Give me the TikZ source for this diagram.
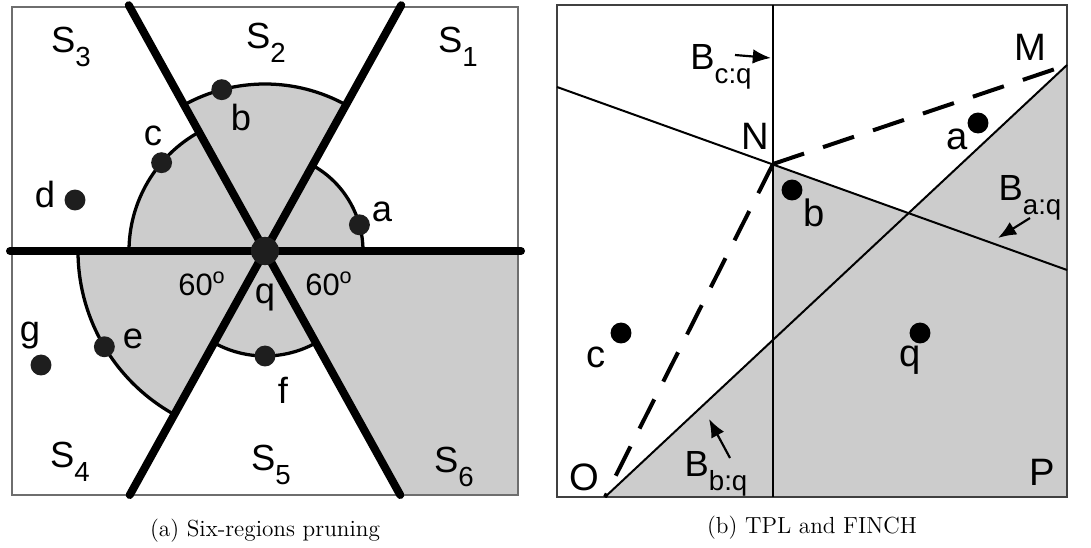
\documentclass[tikz,border=0pt]{standalone}
\usepackage{fontspec}
\setsansfont{Liberation Sans}
\usepackage{tikz}
\usetikzlibrary{arrows.meta, calc}
\definecolor{shadegray}{RGB}{204,204,204}
\definecolor{panelgray}{RGB}{110,110,110}
\definecolor{dotgray}{RGB}{30,30,30}
\newcommand{\lowsub}[1]{\raisebox{-0.38em}{\scalebox{0.76}{#1}}}
\tikzset{
    ptdot/.style={
        circle,
        fill=dotgray,
        inner sep=0pt,
        minimum size=11.5pt
    },
    panel/.style={draw=panelgray, line width=0.6pt},
    lbl/.style={font=\sffamily\fontsize{20}{20}\selectfont, inner sep=0pt},
    region/.style={font=\sffamily\fontsize{20}{20}\selectfont, inner sep=0pt},
    caption/.style={font=\fontsize{12.8}{15}\selectfont, inner sep=0pt}
}

\begin{document}
\begin{tikzpicture}[
    x=0.55pt, y=0.55pt,
    sector/.style={fill=shadegray},
    arcline/.style={line width=1.8pt},
    bigline/.style={line width=4.4pt, line cap=round},
    bisector/.style={line width=1.1pt},
    pruned/.style={line width=2.2pt, dash pattern=on 18pt off 11pt},
    pointer/.style={-{Latex[length=10pt, width=8pt]}, line width=1.2pt},
    biglbl/.style={font=\sffamily\fontsize{21}{21}\selectfont, inner sep=0pt},
    anglbl/.style={font=\sffamily\fontsize{17}{17}\selectfont, inner sep=0pt}
]
\useasboundingbox (0,0) rectangle (1091,547);

% (a) six regions around q
\coordinate (qc) at (265,296);
\foreach \a/\b/\r in {0/61/98, 61/119/167, 119/180/136, 180/241/187, 241/299/105} {
    \fill[sector] (qc) -- ($(qc)+(\a:\r)$) arc[start angle=\a, end angle=\b, radius=\r] -- cycle;
    \draw[arcline] ($(qc)+(\a:\r)$) arc[start angle=\a, end angle=\b, radius=\r];
}
\coordinate (t1) at ($(qc)+(61:281)$);
\coordinate (b1) at ($(qc)+(241:279)$);
\coordinate (t2) at ($(qc)+(119:281)$);
\coordinate (b2) at ($(qc)+(299:279)$);
\coordinate (hl) at (10,296);
\coordinate (hr) at (521,296);
\fill[sector] (qc) -- (b2) -- (518,52) -- (518,296) -- cycle;
\draw[panel] (12,52) rectangle (518,540);
\draw[bigline] (hl) -- (hr);
\draw[bigline] (t1) -- (b1);
\draw[bigline] (t2) -- (b2);

\node[ptdot] (a) at ($(qc)+(15.5:98)$) {};
\node[ptdot] (b) at ($(qc)+(105:167)$) {};
\node[ptdot] (c) at ($(qc)+(139.5:136)$) {};
\node[ptdot] (d) at (75,347) {};
\node[ptdot] (e) at ($(qc)+(210.8:187)$) {};
\node[ptdot] (f) at ($(qc)+(270:105)$) {};
\node[ptdot] (g) at (41,182) {};
\node[ptdot, minimum size=15.5pt] (q) at (qc) {};

\node[lbl] (la) at (382,335) {a};
\node[lbl] (lb) at (241,429) {b};
\node[lbl] (lc) at (153,411) {c};
\node[lbl] (ld) at (45,352) {d};
\node[lbl] (le) at (133,208) {e};
\node[lbl] (lf) at (283,157) {f};
\node[lbl] (lg) at (30,211) {g};
\node[lbl] (lq) at (265,250) {q};
\node[anglbl] (ang1) at (202,263) {60\textsuperscript{o}};
\node[anglbl] (ang2) at (329,263) {60\textsuperscript{o}};

\node[region] (s1) at (458,500) {S\lowsub{1}};
\node[region] (s2) at (266,504) {S\lowsub{2}};
\node[region] (s3) at (71,500) {S\lowsub{3}};
\node[region] (s4) at (70,85) {S\lowsub{4}};
\node[region] (s5) at (271,82) {S\lowsub{5}};
\node[region] (s6) at (454,80) {S\lowsub{6}};
\node[caption] (capa) at (265,16) {(a) Six-regions pruning};

% (b) TPL and FINCH
\coordinate (N) at (773,383);
\coordinate (M) at (1067,482);
\coordinate (O) at (605,50);
\coordinate (P) at (1067,50);
\coordinate (vt) at (773,542);
\coordinate (vb) at (773,50);
\coordinate (bl) at (557,460);
\coordinate (br) at (1067,277);
\fill[sector] (N) -- (br) -- (P) -- (vb) -- cycle;
\fill[sector] (O) -- (M) -- (P) -- cycle;
\draw[panel, draw=black!75] (557,50) rectangle (1067,542);
\draw[bisector] (vt) -- (vb);
\draw[bisector] (bl) -- (br);
\draw[bisector] (O) -- (M);
\draw[pruned] (N) -- (M);
\draw[pruned] (N) -- (O);

\node[ptdot, fill=black] (ra) at (978,424) {};
\node[ptdot, fill=black] (rb) at (792,357) {};
\node[ptdot, fill=black] (rc) at (621,214) {};
\node[ptdot, fill=black] (rq) at (920,214) {};

\node[biglbl] (lra) at (957,408) {a};
\node[biglbl] (lrb) at (814,334) {b};
\node[biglbl] (lrc) at (596,190) {c};
\node[biglbl] (lrq) at (910,187) {q};
\node[biglbl] (lN) at (755,411) {N};
\node[biglbl] (lM) at (1030,500) {M};
\node[biglbl] (lO) at (584,70) {O};
\node[biglbl] (lP) at (1042,75) {P};

\node[lbl] (bcq) at (721,480) {B\lowsub{c:q}};
\node[lbl] (baq) at (1030,349) {B\lowsub{a:q}};
\node[lbl] (bbq) at (716,73) {B\lowsub{b:q}};
\coordinate (bcs) at (735,492);
\coordinate (bce) at (771,489);
\coordinate (bas) at (1030,329);
\coordinate (bae) at (998,309);
\coordinate (bbs) at (730,89);
\coordinate (bbe) at (709,128);
\draw[pointer] (bcs) -- (bce);
\draw[pointer] (bas) -- (bae);
\draw[pointer] (bbs) -- (bbe);
\node[caption] (capb) at (812,19) {(b) TPL and FINCH};

\end{tikzpicture}
\end{document}
